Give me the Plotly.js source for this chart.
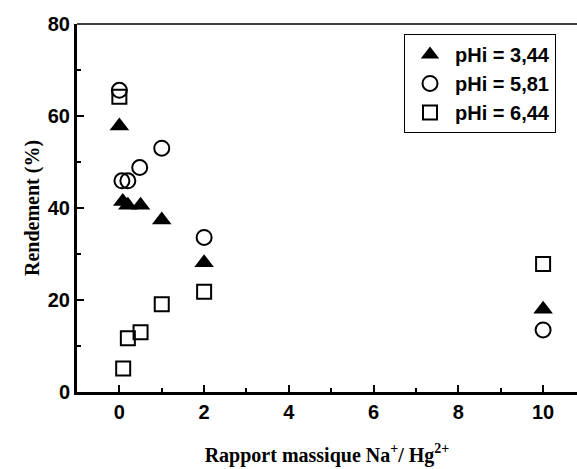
<!DOCTYPE html>
<html>
<head>
<meta charset="utf-8">
<script src="https://cdn.plot.ly/plotly-3.0.1.min.js"></script>
<style>html,body{margin:0;padding:0;background:#fff;}#chart{width:577px;height:469px;}</style>
</head>
<body>
<div id="chart"></div>
<script>
// Data
const seriesNames = ["pHi = 3,44", "pHi = 5,81", "pHi = 6,44"];
const xA = [0, 0.08, 0.2, 0.5, 1, 2, 10];
const yA = [57.8, 41.4, 40.6, 40.6, 37.4, 28.1, 18.0];
const xB = [0, 0.06, 0.2, 0.48, 1, 2, 10];
const yB = [65.6, 45.9, 45.9, 48.8, 53.0, 33.6, 13.5];
const xC = [0, 0.09, 0.2, 0.5, 1, 2, 10];
const yC = [64.2, 5.1, 11.7, 13.0, 19.1, 21.8, 27.8];
const xTicks = [0, 2, 4, 6, 8, 10];
const yTicks = [0, 20, 40, 60, 80];

const traces = [
  {x: xA, y: yA, name: seriesNames[0], mode: 'markers', type: 'scatter', marker: {symbol: 'triangle-up', size: 17, color: '#000', line: {color: '#000', width: 0}}},
  {x: xB, y: yB, name: seriesNames[1], mode: 'markers', type: 'scatter', marker: {symbol: 'circle-open', size: 15, color: '#000', line: {color: '#000', width: 2}}},
  {x: xC, y: yC, name: seriesNames[2], mode: 'markers', type: 'scatter', marker: {symbol: 'square-open', size: 14, color: '#000', line: {color: '#000', width: 2}}}
];

const tickFont = {family: 'Liberation Sans, Arial, sans-serif', size: 20, color: '#000', weight: 700};
const titleFont = {family: 'Liberation Serif, Times New Roman, serif', size: 20, color: '#000', weight: 700};

const layout = {
  width: 577, height: 469,
  margin: {l: 77, r: 0, t: 24, b: 77},
  paper_bgcolor: '#fff', plot_bgcolor: '#fff',
  showlegend: true,
  legend: {
    x: 0.654, y: 0.973, xanchor: 'left', yanchor: 'top',
    bordercolor: '#000', borderwidth: 1, bgcolor: '#fff',
    font: {family: 'Liberation Sans, Arial, sans-serif', size: 20, color: '#000', weight: 700},
    itemwidth: 40,
    tracegroupgap: 0
  },
  xaxis: {
    range: [-1, 10.8], tickvals: xTicks, ticktext: xTicks.map(String),
    showgrid: false, zeroline: false, showline: true, linecolor: '#000', linewidth: 3,
    ticks: 'inside', ticklen: 7, tickwidth: 2, tickcolor: '#000',
    minor: {ticks: 'inside', ticklen: 4, tickwidth: 2, tickcolor: '#000', dtick: 1, tick0: 0, showgrid: false},
    tickfont: tickFont,
    title: {text: 'Rapport massique Na<sup>+</sup>/ Hg<sup>2+</sup>', font: titleFont, standoff: 26}
  },
  yaxis: {
    range: [0, 80], tickvals: yTicks, ticktext: yTicks.map(String),
    showgrid: false, zeroline: false, showline: true, linecolor: '#000', linewidth: 3,
    ticks: 'inside', ticklen: 7, tickwidth: 2, tickcolor: '#000',
    minor: {ticks: 'inside', ticklen: 4, tickwidth: 2, tickcolor: '#000', dtick: 10, tick0: 0, showgrid: false},
    tickfont: tickFont,
    title: {text: 'Rendement (%)', font: titleFont, standoff: 3}
  },
  shapes: [
    {type: 'line', xref: 'paper', yref: 'paper', x0: 0, x1: 1, y0: 1, y1: 1, line: {color: '#000', width: 1.5}}
  ]
};

Plotly.newPlot('chart', traces, layout, {displayModeBar: false, staticPlot: true});
</script>
</body>
</html>
